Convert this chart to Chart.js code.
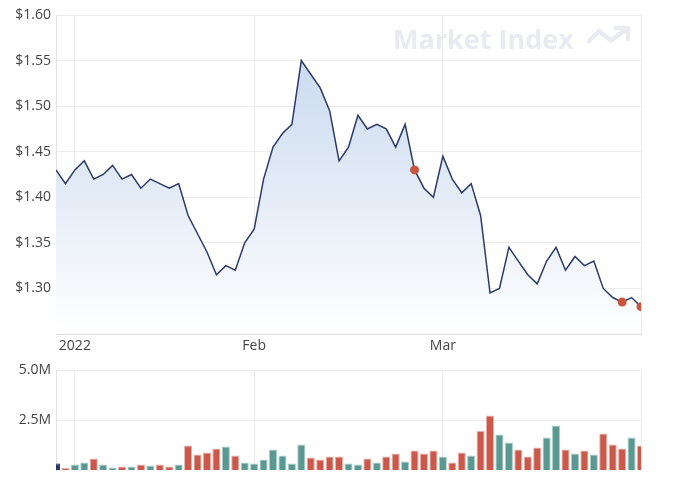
<!DOCTYPE html>
<html>
<head>
<meta charset="utf-8">
<script src="https://cdn.jsdelivr.net/npm/chart.js@4/dist/chart.umd.min.js"></script>
<style>
  html, body { margin: 0; padding: 0; background: #fff; }
  #wrap { position: relative; width: 688px; height: 496px; overflow: hidden; }
  #priceChart { position: absolute; left: 0; top: 0; }
  #volChart { position: absolute; left: 0; top: 355px; }
</style>
</head>
<body>
<div id="wrap">
  <canvas id="priceChart" width="688" height="360"></canvas>
  <canvas id="volChart" width="688" height="141"></canvas>
</div>
<script>
/* Share price + volume, 30 Dec 2021 – 30 Mar 2022 */

const dates = [
  "2021-12-30", "2021-12-31",
  "2022-01-04", "2022-01-05", "2022-01-06", "2022-01-07", "2022-01-10", "2022-01-11", "2022-01-12",
  "2022-01-13", "2022-01-14", "2022-01-17", "2022-01-18", "2022-01-19", "2022-01-20", "2022-01-21",
  "2022-01-24", "2022-01-25", "2022-01-27", "2022-01-28", "2022-01-31",
  "2022-02-01", "2022-02-02", "2022-02-03", "2022-02-04", "2022-02-07", "2022-02-08", "2022-02-09",
  "2022-02-10", "2022-02-11", "2022-02-14", "2022-02-15", "2022-02-16", "2022-02-17", "2022-02-18",
  "2022-02-21", "2022-02-22", "2022-02-23", "2022-02-24", "2022-02-25", "2022-02-28",
  "2022-03-01", "2022-03-02", "2022-03-03", "2022-03-04", "2022-03-07", "2022-03-08", "2022-03-09",
  "2022-03-10", "2022-03-11", "2022-03-14", "2022-03-15", "2022-03-16", "2022-03-17", "2022-03-18",
  "2022-03-21", "2022-03-22", "2022-03-23", "2022-03-24", "2022-03-25", "2022-03-28", "2022-03-29",
  "2022-03-30",
];

const closePrice = [
  1.43, 1.415, 1.43, 1.44, 1.42, 1.425, 1.435, 1.42, 1.425, 1.41,
  1.42, 1.415, 1.41, 1.415, 1.38, 1.36, 1.34, 1.315, 1.325, 1.32,
  1.35, 1.365, 1.42, 1.455, 1.47, 1.48, 1.55, 1.535, 1.52, 1.495,
  1.44, 1.455, 1.49, 1.475, 1.48, 1.475, 1.455, 1.48, 1.43, 1.41,
  1.40, 1.445, 1.42, 1.405, 1.415, 1.38, 1.295, 1.30, 1.345, 1.33,
  1.315, 1.305, 1.33, 1.345, 1.32, 1.335, 1.325, 1.33, 1.30, 1.29,
  1.285, 1.29, 1.28,
];

const volume = [
  330000, 100000, 280000, 380000, 580000, 280000, 130000, 180000, 180000, 280000,
  230000, 280000, 180000, 280000, 1230000, 780000, 880000, 1080000, 1170000, 730000,
  380000, 330000, 530000, 1030000, 730000, 330000, 1280000, 630000, 530000, 680000,
  680000, 330000, 280000, 580000, 380000, 680000, 830000, 430000, 980000, 830000,
  980000, 680000, 380000, 880000, 730000, 1950000, 2730000, 1780000, 1380000, 1030000,
  680000, 1130000, 1630000, 2230000, 1030000, 830000, 980000, 780000, 1830000, 1280000,
  1080000, 1630000, 1230000,
];

// announcement markers (index into dates)
const markerIdx = [38, 60, 62];

const priceTicks = [1.25, 1.30, 1.35, 1.40, 1.45, 1.50, 1.55, 1.60];
const volTicks = [0, 2500000, 5000000];
const MONTHS = ["Jan", "Feb", "Mar", "Apr", "May", "Jun", "Jul", "Aug", "Sep", "Oct", "Nov", "Dec"];

const FONT = "'Open Sans', 'DejaVu Sans', sans-serif";
const GRID = "#ebebeb";
const TEXT = "#444";
const LINE = "#2c3a69";
const UP = "#5b9891", UP_EDGE = "#a9cfca";
const DOWN = "#ca594c", DOWN_EDGE = "#eab0a9";

// month / year label on the first trading day of a new month
function xLabel(i) {
  if (i === dates.length - 1) return "";            // keeps the right border line
  if (i === 0) return null;
  const [y, m] = dates[i].split("-");
  const [py, pm] = dates[i - 1].split("-");
  if (y !== py) return y;
  if (m !== pm) return MONTHS[+m - 1];
  return null;
}

const watermark = {
  id: "watermark",
  beforeDraw(chart) {
    const c = chart.ctx;
    c.save();
    c.fillStyle = "#e9ebf0";
    c.strokeStyle = "#e9ebf0";
    let size = 31;
    c.font = `bold ${size}px ${FONT}`;
    const w = c.measureText("Market Index").width;
    size = size * 181 / w;
    c.font = `bold ${size}px ${FONT}`;
    c.textBaseline = "alphabetic";
    c.fillText("Market Index", 393, 49);
    // little trend arrow
    c.lineWidth = 4.5;
    c.lineCap = "round";
    c.lineJoin = "round";
    c.beginPath();
    c.moveTo(589, 41);
    c.lineTo(599, 31);
    c.lineTo(611, 40.5);
    c.lineTo(627, 28.5);
    c.stroke();
    c.beginPath();
    c.moveTo(616, 28);
    c.lineTo(628, 28);
    c.lineTo(628, 39);
    c.stroke();
    c.restore();
  },
};

function fillGradient(ctx) {
  const area = ctx.chart.chartArea;
  if (!area) return "rgba(200,215,238,0.8)";
  const g = ctx.chart.ctx.createLinearGradient(0, area.top, 0, area.bottom);
  g.addColorStop(0, "#c3d5ee");
  g.addColorStop(0.45, "#dde7f5");
  g.addColorStop(1, "#ffffff");
  return g;
}

Chart.defaults.font.family = FONT;
Chart.defaults.font.size = 14;
Chart.defaults.color = TEXT;

new Chart(document.getElementById("priceChart"), {
  type: "line",
  data: {
    labels: dates,
    datasets: [{
      data: closePrice,
      borderColor: LINE,
      borderWidth: 1.5,
      tension: 0,
      fill: "start",
      backgroundColor: fillGradient,
      clip: 0,
      pointRadius: (c) => markerIdx.includes(c.dataIndex) ? 4.5 : 0,
      pointBackgroundColor: "#c9553e",
      pointBorderWidth: 0,
    }],
  },
  options: {
    responsive: false,
    animation: false,
    layout: { padding: { top: 15, right: 47, left: 0, bottom: 0 } },
    plugins: { legend: { display: false }, tooltip: { enabled: false } },
    scales: {
      x: {
        offset: false,
        grid: { color: GRID, drawTicks: false, offset: false },
        border: { color: "#dedede" },
        ticks: { autoSkip: false, maxRotation: 0, padding: 4, callback: (v, i) => xLabel(i) },
        afterFit: (s) => { s.height = 26; },
      },
      y: {
        min: priceTicks[0],
        max: priceTicks[priceTicks.length - 1],
        afterBuildTicks: (s) => { s.ticks = priceTicks.map((v) => ({ value: v })); },
        grid: { color: GRID, drawTicks: false },
        border: { color: "#e3e3e3" },
        ticks: {
          padding: 5,
          callback: (v, i) => i === 0 ? null : "$" + v.toFixed(2),
        },
        afterFit: (s) => { s.width = 56; },
      },
    },
  },
  plugins: [watermark],
});

new Chart(document.getElementById("volChart"), {
  type: "bar",
  data: {
    labels: dates,
    datasets: [{
      data: volume,
      backgroundColor: closePrice.map((p, i) => i === 0 ? LINE : (p >= closePrice[i - 1] ? UP : DOWN)),
      borderColor: closePrice.map((p, i) => i === 0 ? LINE : (p >= closePrice[i - 1] ? UP_EDGE : DOWN_EDGE)),
      borderWidth: 1,
      categoryPercentage: 1,
      barPercentage: 0.86,
      clip: 0,
    }],
  },
  options: {
    responsive: false,
    animation: false,
    layout: { padding: { top: 15, right: 47, left: 0, bottom: 26 } },
    plugins: { legend: { display: false }, tooltip: { enabled: false } },
    scales: {
      x: {
        offset: false,
        grid: { color: GRID, drawTicks: false, offset: false },
        border: { display: false },
        ticks: { display: false, autoSkip: false, callback: (v, i) => xLabel(i) },
        afterFit: (s) => { s.height = 0; },
      },
      y: {
        min: volTicks[0],
        max: volTicks[volTicks.length - 1],
        afterBuildTicks: (s) => { s.ticks = volTicks.map((v) => ({ value: v })); },
        grid: { color: GRID, drawTicks: false },
        border: { color: "#e3e3e3" },
        ticks: {
          padding: 5,
          callback: (v) => v === 0 ? null : (v / 1e6).toFixed(1) + "M",
        },
        afterFit: (s) => { s.width = 56; },
      },
    },
  },
});
</script>
</body>
</html>
